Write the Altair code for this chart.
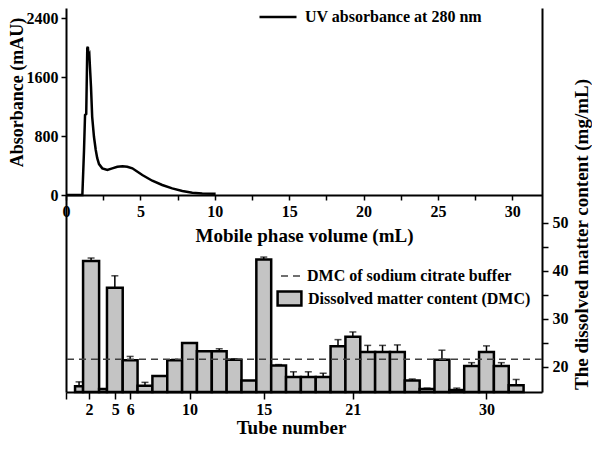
import altair as alt
import pandas as pd

# ---------------- data ----------------
# UV absorbance trace (top panel)
volume_ml = [0.0, 1.10, 1.21, 1.28, 1.36, 1.43, 1.47, 1.52, 1.57, 1.61,
             1.68, 1.76, 1.88, 2.00, 2.10, 2.22, 2.44, 2.78, 3.11, 3.45,
             3.80, 4.12, 4.46, 5.13, 5.80, 6.47, 7.14, 7.82, 8.49, 9.16, 10.06]
absorbance_mau = [0, 0, 600, 1085, 1100, 1990, 2010, 1880, 1900, 1740,
                  1470, 1060, 790, 610, 500, 420, 362, 340, 362, 384,
                  390, 384, 362, 271, 194, 136, 90, 54, 31, 22, 18]

# Dissolved matter content per tube (bottom panel), bar extents on the tube axis
bar_start = [2.29, 2.83, 3.91, 4.44, 5.5, 6.5, 7.5, 8.5, 9.5, 10.5, 11.5, 12.5,
             13.5, 14.5, 15.5, 16.5, 17.5, 18.5, 19.5, 20.5, 21.5, 22.5, 23.5,
             24.5, 25.5, 26.5, 27.5, 28.5, 29.5, 30.5, 31.5]
bar_end = [2.83, 3.91, 4.44, 5.5, 6.5, 7.5, 8.5, 9.5, 10.5, 11.5, 12.5, 13.5,
           14.5, 15.5, 16.5, 17.5, 18.5, 19.5, 20.5, 21.5, 22.5, 23.5, 24.5,
           25.5, 26.5, 27.5, 28.5, 29.5, 30.5, 31.5, 32.5]
dmc = [16.0, 42.1, 15.4, 36.5, 21.4, 16.1, 18.1, 21.4, 25.0, 23.3, 23.3, 21.5,
       17.2, 42.4, 20.3, 17.9, 17.9, 17.9, 24.3, 26.3, 23.1, 23.1, 23.1, 17.2,
       15.4, 21.5, 15.2, 20.2, 23.1, 20.2, 16.2]
dmc_err = [0.9, 0.6, 0.0, 2.5, 0.8, 0.7, 0.0, 0.2, 0.0, 0.0, 0.5, 0.2,
           0.0, 0.5, 0.2, 1.1, 1.1, 0.8, 1.4, 1.0, 1.4, 1.4, 1.5, 0.3,
           0.2, 2.0, 0.4, 0.7, 1.3, 0.7, 1.2]
buffer_dmc = 21.6

ml_ticks = [0, 2.5, 5, 7.5, 10, 12.5, 15, 17.5, 20, 22.5, 25, 27.5, 30]
abs_ticks = [0, 800, 1600, 2400]
dmc_ticks = [20, 25, 30, 35, 40, 45, 50]
tube_tick_pos = [1.68, 3.23, 5, 6, 10, 15, 21, 30]
tube_tick_lab = ["", "2", "5", "6", "10", "15", "21", "30"]

uv_label = "UV absorbance at 280 nm"
buf_label = "DMC of sodium citrate buffer"
dmc_label = "Dissolved matter content (DMC)"

# ---------------- tables ----------------
df_line = pd.DataFrame({"volume": volume_ml, "absorbance": absorbance_mau})
df_line["series"] = uv_label
df_bars = pd.DataFrame({"start": bar_start, "end": bar_end, "dmc": dmc, "err": dmc_err})
df_bars["center"] = (df_bars["start"] + df_bars["end"]) / 2
df_bars["top"] = df_bars["dmc"] + df_bars["err"]
df_bars["series"] = dmc_label
df_err = df_bars[df_bars["err"] > 0]
df_buf = pd.DataFrame({"level": [buffer_dmc], "series": [buf_label]})

FONT = "Liberation Serif"

ml_scale = alt.Scale(domain=[0, 32], nice=False, zero=False)
abs_scale = alt.Scale(domain=[-2671, 2536], nice=False, zero=False)
tube_scale = alt.Scale(domain=[1.68, 33.74], nice=False, zero=False)
dmc_min = 14.79
dmc_scale = alt.Scale(domain=[dmc_min, 94.79], nice=False, zero=False)

tube_expr = " : ".join(f"datum.value == {p} ? '{l}'" for p, l in zip(tube_tick_pos, tube_tick_lab)) + " : ''"

ml_axis = alt.Axis(orient="bottom", offset=-197, values=ml_ticks,
                   labelExpr="datum.value % 5 == 0 ? datum.label : ''",
                   title="Mobile phase volume (mL)", tickSize=5, labelPadding=3,
                   titlePadding=7, labelFlush=False, labelOverlap=False, grid=False)
abs_axis = alt.Axis(orient="left", values=abs_ticks, format="d", title="Absorbance (mAU)",
                    tickSize=5, labelPadding=3, titleX=-40, titleY=84, titleAngle=270,
                    titleFontSize=18, titleAlign="center", titleBaseline="bottom",
                    grid=False, labelFlush=False, labelOverlap=False)
tube_axis = alt.Axis(orient="bottom", values=tube_tick_pos, labelExpr=tube_expr,
                     title="Tube number", tickSize=7, labelPadding=2, titlePadding=1,
                     titleX=225, labelFlush=False, labelOverlap=False, grid=False)
dmc_axis = alt.Axis(orient="right", values=dmc_ticks,
                    labelExpr="datum.value % 10 == 0 ? datum.label : ''",
                    title="The dissolved matter content (mg/mL)", tickSize=6,
                    labelPadding=4, titleAngle=270, titleX=49, titleY=226,
                    titleAlign="center", titleBaseline="bottom", grid=False,
                    labelFlush=False, labelOverlap=False)

line = alt.Chart(df_line).mark_line(strokeWidth=2.5).encode(
    x=alt.X("volume:Q", scale=ml_scale, axis=ml_axis),
    y=alt.Y("absorbance:Q", scale=abs_scale, axis=abs_axis),
    color=alt.Color("series:N", scale=alt.Scale(domain=[uv_label], range=["black"]),
                    legend=alt.Legend(orient="none", legendX=192, legendY=-11, title=None,
                                      symbolType="stroke", symbolSize=1369,
                                      symbolStrokeWidth=2.5, labelOffset=7, padding=0,
                                      labelLimit=0)),
)

bars = alt.Chart(df_bars).mark_bar(stroke="black", strokeWidth=2.5).encode(
    x=alt.X("start:Q", scale=tube_scale, axis=tube_axis),
    x2="end:Q",
    y=alt.Y("dmc:Q", scale=dmc_scale, axis=dmc_axis),
    y2=alt.datum(dmc_min),
    fill=alt.Fill("series:N", scale=alt.Scale(domain=[dmc_label], range=["#c4c4c4"]),
                  legend=alt.Legend(orient="none", legendX=215, legendY=282, title=None,
                                    symbolType="M-1.7,-1L1.7,-1L1.7,1L-1.7,1Z",
                                    symbolSize=196, symbolStrokeColor="black",
                                    symbolStrokeWidth=2.5, labelOffset=10, padding=0,
                                    labelLimit=0)),
)

err_rule = alt.Chart(df_err).mark_rule(color="black", strokeWidth=1.5).encode(
    x=alt.X("center:Q", scale=tube_scale, axis=tube_axis),
    y=alt.Y("dmc:Q", scale=dmc_scale, axis=dmc_axis),
    y2="top:Q",
)
err_cap = alt.Chart(df_err).mark_tick(color="black", orient="horizontal", size=7,
                                      thickness=1.5).encode(
    x=alt.X("center:Q", scale=tube_scale, axis=tube_axis),
    y=alt.Y("top:Q", scale=dmc_scale, axis=dmc_axis),
)
dash = alt.Chart(df_buf).mark_rule(color="#404040", strokeWidth=1.5).encode(
    y=alt.Y("level:Q", scale=dmc_scale, axis=dmc_axis),
    strokeDash=alt.StrokeDash("series:N",
                              scale=alt.Scale(domain=[buf_label], range=[[7, 5]]),
                              legend=alt.Legend(orient="none", legendX=214, legendY=256,
                                                title=None, symbolType="stroke",
                                                symbolSize=484, symbolStrokeColor="#404040",
                                                symbolStrokeWidth=1.5, labelOffset=3,
                                                padding=0, labelLimit=0)),
)

lower = alt.layer(bars, err_rule, err_cap, dash)

chart = alt.layer(line, lower).resolve_scale(
    x="independent", y="independent"
).properties(
    width=476, height=384,
    autosize=alt.AutoSizeParams(type="none"),
    padding={"left": 58, "top": 0, "right": 50, "bottom": 46},
).configure_view(stroke=None).configure_axis(
    labelFont=FONT, titleFont=FONT, labelFontWeight="bold", titleFontWeight="bold",
    labelFontSize=16, titleFontSize=19, labelColor="black", titleColor="black",
    domainColor="black", domainWidth=2, tickColor="black", tickWidth=1.5,
).configure_legend(
    labelFont=FONT, labelFontWeight="bold", labelFontSize=16, labelColor="black",
)

chart.save("out.html", embed_options={"renderer": "svg", "actions": False})
